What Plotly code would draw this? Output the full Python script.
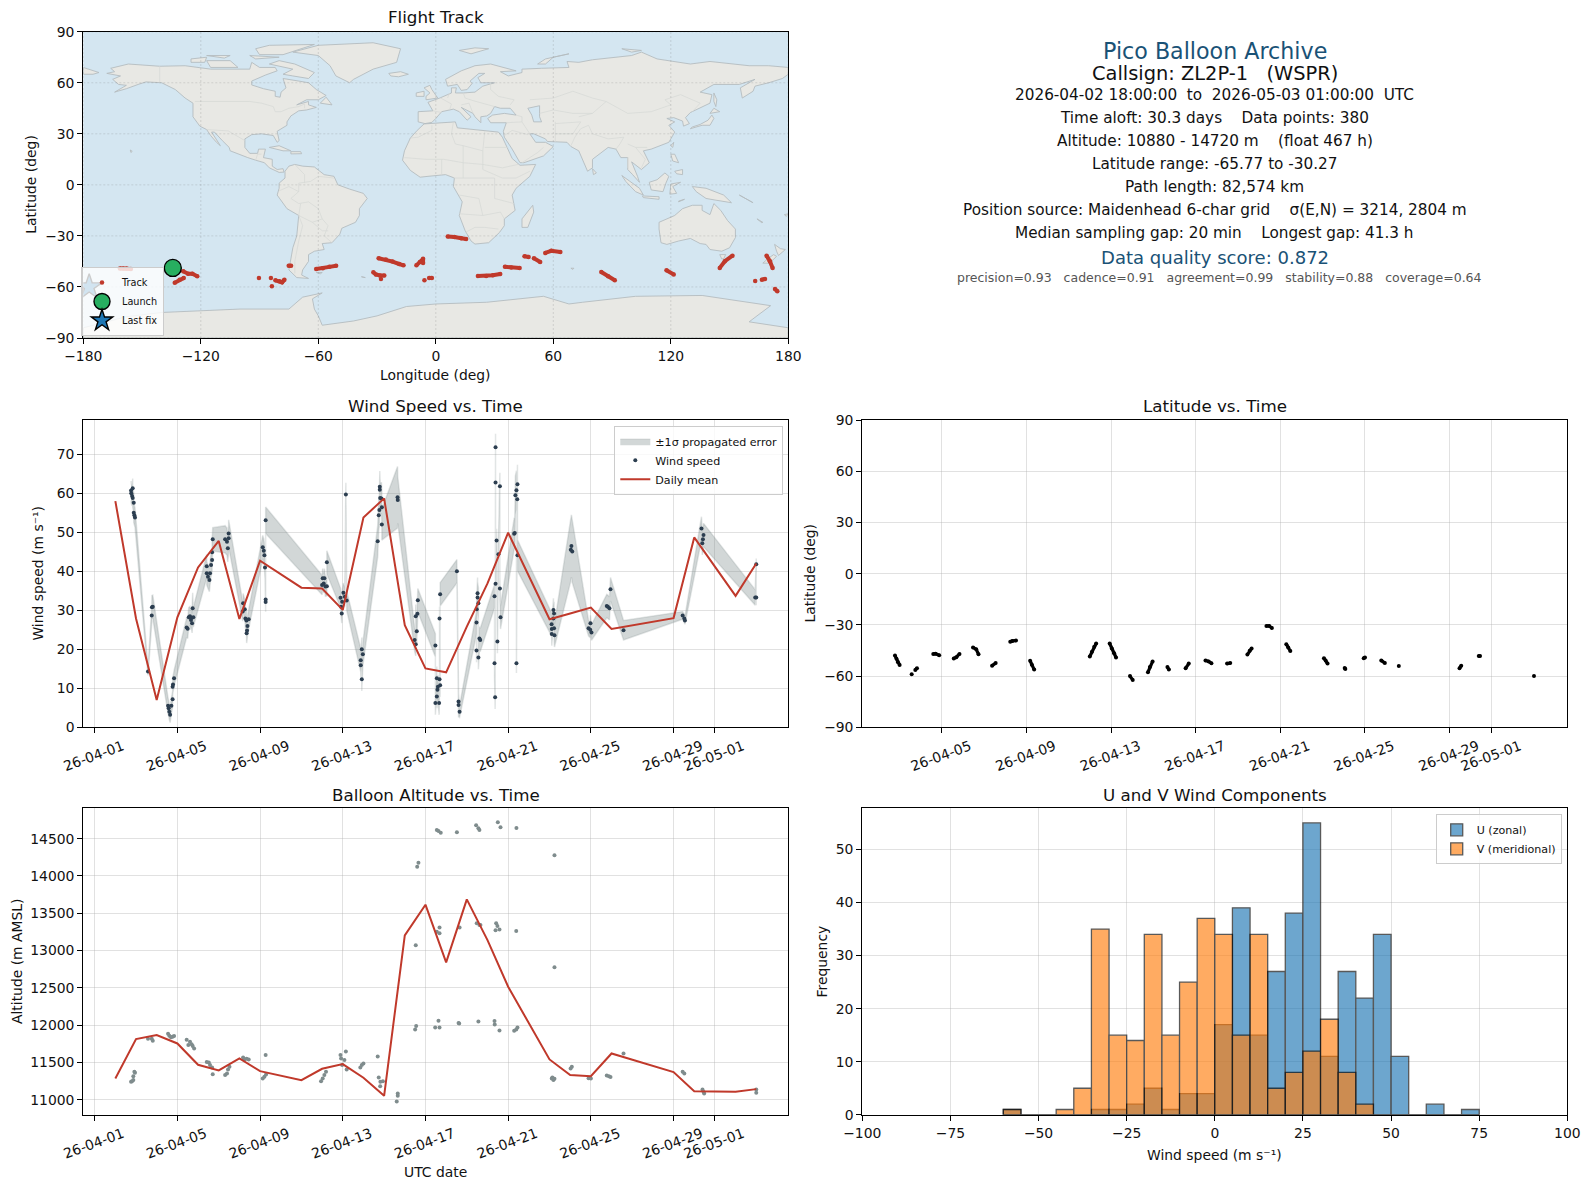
import pandas as pd
import plotly.graph_objects as go

W, H = 1590, 1189
BASE = pd.Timestamp("2026-04-01")

# ---------- time axis ----------
tick_dates = ["2026-04-01", "2026-04-05", "2026-04-09", "2026-04-13", "2026-04-17",
              "2026-04-21", "2026-04-25", "2026-04-29", "2026-05-01"]
tick_labels = ["26-04-01", "26-04-05", "26-04-09", "26-04-13", "26-04-17",
               "26-04-21", "26-04-25", "26-04-29", "26-05-01"]

# ---------- daily means (days after 04-01) ----------
mean_days = [1, 2, 3, 4, 5, 6, 7, 8, 10, 11, 12, 13, 14, 15, 16, 17, 18, 19, 20, 22, 23, 24, 25, 28, 29, 31, 32]
mean_wind = [58, 27.9, 7, 28.2, 41, 47.8, 27.8, 42.7, 35.8, 35.6, 30.1, 53.8, 58.7, 26.2, 15.1, 14.1, 25.8, 36.9,
             49.9, 27.7, 29.2, 30.7, 25.2, 28, 48.7, 33.7, 42]
mean_alt = [11286, 11813, 11867, 11755, 11469, 11393, 11554, 11384, 11264, 11416, 11478, 11295, 11054, 13204,
            13615, 12842, 13686, 13141, 12515, 11541, 11331, 11317, 11621, 11371, 11116, 11107, 11143]

# ---------- wind speed samples ----------
wind_days = [1.76, 1.77, 1.81, 1.84, 1.84, 1.89, 1.89, 1.92, 1.95,
             2.58, 2.76, 2.77, 2.81,
             3.55, 3.58, 3.61, 3.65, 3.71, 3.77, 3.77, 3.79, 3.84,
             4.45, 4.50, 4.55, 4.61, 4.66, 4.68, 4.71, 4.74, 4.77,
             5.42, 5.42, 5.48, 5.55, 5.58, 5.63, 5.68, 5.68, 5.71,
             6.31, 6.40, 6.44, 6.48, 6.48,
             7.16, 7.18, 7.26, 7.29, 7.34, 7.35, 7.37, 7.39, 7.45,
             8.13, 8.18, 8.21, 8.24, 8.27, 8.27, 8.27,
             11.00, 11.03, 11.08, 11.11, 11.16, 11.23, 11.23,
             11.89, 11.92, 11.95, 11.97, 12.03, 12.10, 12.15, 12.19,
             12.87, 12.87, 12.92, 12.92, 12.97,
             13.69, 13.74, 13.77, 13.79, 13.79, 13.81, 13.87, 13.89, 13.89,
             14.65, 14.66,
             15.48, 15.53, 15.53, 15.58, 15.61, 15.63,
             16.48, 16.48, 16.55, 16.55, 16.58, 16.60, 16.66, 16.68, 16.68, 16.71, 16.71,
             17.52, 17.60, 17.60, 17.65,
             18.47, 18.47, 18.48, 18.52, 18.52, 18.56, 18.56, 18.61, 18.65,
             19.34, 19.34, 19.37, 19.39, 19.39, 19.39, 19.44, 19.48, 19.53, 19.60, 19.60, 19.63,
             20.29, 20.32, 20.35, 20.40, 20.40, 20.44, 20.45, 20.45,
             22.10, 22.11, 22.11, 22.19, 22.19, 22.22, 22.22, 22.24,
             23.03, 23.06, 23.10,
             23.89, 23.97, 23.98, 24.03,
             24.77, 24.82, 24.90, 24.95,
             25.58,
             28.44, 28.52, 28.55,
             29.35, 29.39, 29.42, 29.45,
             31.95, 32.0, 32.0]
wind_speed = [60.7, 60, 59.3, 61.3, 58.8, 57.6, 55, 54.4, 53.8,
              14.3, 28.7, 30.8, 30.9,
              5.5, 4.9, 4, 3.2, 5.5, 7.2, 10.4, 11, 12.6,
              25.6, 25.3, 28.2, 28.5, 27.5, 28.1, 26.7, 30.5, 28.2,
              41.3, 39.5, 38.6, 37.8, 39.5, 41.6, 42.9, 44.9, 48.2,
              48.2, 47.6, 45.9, 48.5, 49.7,
              29.7, 31.8, 30.3, 27.9, 27.4, 24.1, 24.8, 26, 27.7,
              46.2, 45.3, 44.1, 41, 32.8, 32.1, 53.1,
              36.5, 38.2, 36.9, 38.2, 36.1, 36.2, 42.3,
              33.2, 30.9, 29.2, 32.2, 34.5, 33.5, 59.7, 32.5,
              17.2, 15.9, 20, 12.3, 18.7,
              47.7, 54.4, 55.7, 60.9, 61.7, 58.8, 58.7, 56.4, 52,
              59, 58.3,
              22.4, 21.3, 28.5, 24.6, 29.1, 32.6,
              21, 6.2, 12.6, 7.9, 9.6, 10.4, 6.2, 12.3, 27.9, 10.8, 34.1,
              40, 6.6, 5.7, 4,
              26.9, 19.7, 30.3, 34.4, 33.3, 31.8, 17.9, 22.8, 22.4,
              33.6, 16.4, 7.7, 71.8, 62.8, 36.8, 47.9, 22, 44.4, 61.8, 35.6, 28.2,
              49.6, 49.8, 59.5, 60.8, 16.4, 58.5, 62.3, 44.1,
              26.4, 25.2, 23.9, 30.1, 27.9, 29.2, 25.4, 23.6,
              45.5, 46.5, 45.1,
              25.4, 25, 26.7, 24.3,
              31.1, 30.9, 30.5, 35.4,
              24.9,
              28.7, 27.9, 27.4,
              51, 47.2, 48.2, 49.3,
              33.3, 41.8, 33.3]
wind_sigma = [2.5, 2.5, 2.5, 2.5, 2.5, 2.5, 2.5, 2.5, 2.5,
              1.0, 2.0, 3.0, 3.0,
              2, 2, 2, 2, 2, 2, 2, 2, 2,
              2.5, 2.5, 2.5, 2.5, 2.5, 2.5, 2.5, 4, 2.5,
              3, 3, 3, 3, 3, 3, 3, 3, 3,
              3.5, 3.5, 3.5, 3.5, 3.5,
              2.5, 2.5, 2.5, 2.5, 2.5, 2.5, 2.5, 2.5, 2.5,
              3, 3, 3, 3, 2.5, 2.5, 3.4,
              2.5, 2.5, 2.5, 2.5, 2.5, 2.5, 3,
              2.5, 2.5, 2.5, 2.5, 2.5, 2.5, 3, 2.5,
              3, 3, 3, 3, 3,
              4, 4, 4, 4, 4, 4, 4, 4, 4,
              7.9, 6,
              3, 3, 3, 3, 3, 3,
              3, 3, 3, 3, 3, 3, 3, 3, 3, 3, 3,
              3, 3, 3, 1.5,
              3, 3, 3, 4, 4, 4, 3, 3, 3,
              3, 3, 3, 3.5, 3.5, 3, 3, 3, 3, 3.5, 3, 3,
              4, 4, 5, 5, 2.5, 5, 5, 4,
              3, 3, 3, 3, 3, 3, 3, 3,
              8, 8, 8,
              2, 2, 2, 2,
              3, 3, 3, 3,
              2.5,
              1, 1, 1,
              3, 3, 3, 3,
              2, 1.5, 2]

# ---------- altitude samples ----------
alt_days = [1.76, 1.81, 1.87, 1.87, 1.92, 1.95, 2.58, 2.76, 2.81,
            3.55, 3.61, 3.69, 3.77, 3.84, 4.45, 4.53, 4.61, 4.69, 4.74, 4.81,
            5.42, 5.52, 5.58, 5.68, 5.71, 6.31, 6.40, 6.45, 6.52,
            7.18, 7.24, 7.35, 7.45, 8.13, 8.21, 8.29, 8.27,
            10.95, 11.03, 11.11, 11.19, 11.89, 11.92, 12.08, 11.97, 12.19, 12.15,
            12.85, 12.92, 13.00, 13.69, 13.74, 13.82, 13.81, 13.94,
            14.66, 14.66, 14.61, 15.53, 15.50, 15.55, 15.60, 15.66,
            16.47, 16.68, 16.63, 16.55, 16.68, 16.68, 16.55, 16.63, 16.74,
            17.60, 17.63, 17.65, 17.52,
            18.56, 18.48, 18.61, 18.66, 18.45, 18.56, 18.61,
            19.34, 19.35, 19.58, 19.39, 19.42, 19.48, 19.58, 19.50, 19.63,
            20.29, 20.39, 20.45, 20.39, 20.40,
            22.24, 22.24, 22.11, 22.19, 22.24, 22.14,
            23.08, 23.02, 23.89, 24.00, 24.77, 24.87, 24.95, 25.58,
            28.44, 28.52, 29.40, 29.45, 29.48, 32.0, 32.0]
alt_m = [11241, 11250, 11264, 11317, 11375, 11362, 11818, 11818, 11791,
         11885, 11858, 11840, 11845, 11854, 11805, 11733, 11778, 11746, 11720, 11688,
         11505, 11500, 11465, 11434, 11344, 11331, 11353, 11407, 11442,
         11568, 11541, 11550, 11541, 11286, 11308, 11340, 11599,
         11250, 11286, 11331, 11375, 11599, 11554, 11532, 11465, 11407, 11648,
         11434, 11465, 11487, 11581, 11300, 11241, 11183, 11250,
         11085, 11054, 10978, 13070, 11943, 11988, 14125, 14178,
         11970, 11970, 12059, 13253, 13231, 13311, 14616, 14603, 14580,
         12028, 12024, 13311, 14585,
         12050, 13365, 13342, 13342, 14679, 14639, 14616,
         12055, 12010, 11930, 13271, 13365, 13329, 13284, 14719, 14652,
         11925, 11943, 11970, 13262, 14643,
         14277, 12775, 11286, 11264, 11282, 11300,
         11443, 11420, 11290, 11286, 11326, 11317, 11304, 11621,
         11375, 11353, 11139, 11107, 11085, 11139, 11094]

# ---------- latitude samples (None separates daily runs) ----------
lat_days = [1.78, 1.85, 1.91, 2.0, None, 2.57, None, 2.74, 2.82, None, 3.59, 3.7, 3.87, None, 4.56, 4.68, 4.83, None,
            5.47, 5.62, 5.73, None, 6.37, 6.54, None, 7.23, 7.33, 7.5, None, 8.17, 8.25, 8.36, None,
            10.99, 11.09, 11.2, 11.29, None, 11.93, 12.03, 12.14, 12.23, None, 12.89, 13.02, None,
            13.74, 13.83, 13.96, None, 14.66, 14.73, None, 15.52, 15.67, None, 16.46, 16.61, 16.74, None,
            17.48, 17.63, None, 18.44, 18.55, 18.64, None, 19.34, 19.47, 19.6, None, 20.28, 20.37, 20.47, None,
            22.06, 22.14, 22.23, None, 23.04, 23.07, None, 23.94, 24.0, None, 24.77, 24.94, None, 25.6, None,
            28.47, 28.55, None, 29.38, 29.44, None, 31.99]
lat_deg = [-48, -49.9, -51.8, -53.5, None, -58.9, None, -56.4, -55.4, None, -47, -46.9, -47.8, None, -49.7, -48.9, -47, None,
           -43.2, -44.3, -47.2, None, -53.9, -52.4, None, -39.9, -39.4, -39.2, None, -51, -53.3, -56.2, None,
           -48.5, -45.7, -42.8, -40.9, None, -40.9, -43.8, -46.6, -49.1, None, -60, -62.3, None,
           -57.7, -54.7, -51.4, None, -54.7, -56.2, None, -55.4, -52.7, None, -50.8, -51.4, -52.5, None,
           -52.7, -52.4, None, -47.4, -45.1, -43.8, None, -30.6, -30.6, -31.9, None, -41.3, -43.2, -45.3, None,
           -49.5, -50.8, -52.7, None, -55.2, -55.8, None, -49.5, -49.1, None, -50.8, -52.4, None, -54.1, None,
           -55.4, -53.9, None, -48.3, -48.3, None, -60]

# ---------- map track ----------
track_lon = [-180, None, -161.3, -159.6, -157.9, -155.7, None, -133.3, -130.8, -128.7, None, -129, -126.5, -124.3, -121.8, None,
             -90.3, None, -84.2, None, -83.7, None, -81.9, -79.8, -78.5, -77.3, None, -75.1, -73.9, None,
             -61.1, -57.7, -54.3, -50.9, None, -29.2, -25.5, -22.1, -18.7, -16.5, None, -31.9, -30.6, -28.5, -26.3, None, -28, None,
             -9.9, -8.1, -6.5, -6.5, None, -5.8, None, -3.4, -2, None,
             6.1, 9.5, 13, 15.5, None, 21.5, 25.7, 29.1, 32.9, None, 35.3, 38.5, 42.8, None, 45.3, 47.4, None,
             50.1, 53.3, None, 55.9, 59, 63.6, None, 84.5, 88, 91.4, None, 117.8, 121.5, None, 145, 147.6, 151.5, None,
             168.9, 170.6, 172, None, 163.1, None, 166.5, 168.1, None, 173.2, 174.4]
track_lat = [-60.6, None, -49.2, -49.2, -49.2, -49.4, None, -57.6, -55.7, -54.7, None, -50.8, -52.2, -52.2, -53.7, None,
             -54.7, None, -54.7, None, -59.6, None, -56.1, -56.7, -57.3, -55.7, None, -47.5, -47.5, None,
             -49.4, -49, -48.2, -47.6, None, -43.1, -43.9, -45.1, -46.5, -47.3, None, -51.4, -52.7, -53.3, -53.3, None, -55.3, None,
             -47.3, -45.3, -43.5, -45.9, None, -56.1, None, -54.7, -54.7, None,
             -30.4, -30.6, -31.4, -31.8, None, -53.5, -53.5, -53.1, -52.4, None, -48.2, -48.6, -48.8, None, -42, -42.4, None,
             -43.1, -45.3, None, -40, -38.8, -39.4, None, -51.2, -53.7, -56.1, None, -50.2, -52.7, None, -48.8, -44.9, -41.6, None,
             -41.6, -44.9, -48.8, None, -56.5, None, -55.7, -55.3, None, -61.2, -62.5]
launch_lon, launch_lat = [-134.3], [-48.8]
last_lon, last_lat = [-177], [-60]

# ---------- wind components histogram ----------
bin_start = [-60, -55, -50, -45, -40, -35, -30, -25, -20, -15, -10, -5, 0, 5, 10, 15, 20, 25, 30, 35, 40, 45, 50, 55, 60, 65, 70]
u_counts = [1, 0, 0, 0, 0, 1, 1, 2, 5, 1, 4, 4, 17, 39, 15, 27, 38, 55, 11, 27, 22, 34, 11, 0, 2, 0, 1]
v_counts = [1, 0, 0, 1, 5, 35, 15, 14, 34, 15, 25, 37, 34, 15, 34, 5, 8, 12, 18, 8, 2, 0, 0, 0, 0, 0, 0]

# ---------- base map outlines (lon, lat) ----------
north_america = [(-168,65.5),(-164,66.5),(-166,68.5),(-157,71),(-141,69.7),(-128,70),(-115,68),(-108,68),(-95,68),(-94,72),(-90,69),(-82,69),(-81,67),(-87,64.5),(-94,61),(-94,58.7),(-88,56.5),(-82,55),(-82,52),(-79.5,51.5),(-79,54.5),(-76.5,57),(-78,62.5),(-70,61),(-65,60),(-61,56),(-56,52.5),(-60,50),(-66,50),(-71,47),(-65,49),(-65,47),(-61,45.5),(-66,44),(-70,43.5),(-74,40.5),(-76,37),(-76,35),(-81,31.5),(-80,26),(-81,25),(-83,29),(-89,30),(-94,29.5),(-97.5,27),(-97.5,22),(-95,18.5),(-91,18.5),(-90.5,21),(-87,21),(-88,16),(-83.5,15),(-83.5,11),(-81,9),(-78,9.5),(-77.5,7.5),(-80,7.3),(-85,10),(-87.5,13),(-92,14.5),(-96,16),(-105,20),(-105.5,22),(-109,26),(-113,31),(-114.5,31),(-110,23),(-112,25),(-115,29),(-117,32.5),(-120.5,34.5),(-124,40),(-124,48),(-128,51),(-133,56),(-140,60),(-148,60.5),(-152,59),(-158,56.5),(-164,54.5),(-158,58.5),(-162,59),(-165,62),(-161,64),(-168,65.5)]
greenland = [(-73,78),(-60,82),(-32,83.5),(-18,80),(-20,72),(-32,68),(-42,62),(-44,60),(-51,64),(-54,70),(-60,76),(-73,78)]
baffin = [(-80,73),(-72,71),(-62,66),(-65,62.5),(-73,64),(-78,65),(-73,68),(-85,71),(-80,73)]
victoria = [(-117,73),(-105,73),(-101,69),(-115,69),(-117,73)]
ellesmere = [(-90,76.5),(-78,76.5),(-62,82.5),(-85,82),(-92,80),(-90,76.5)]
banks = [(-125,74),(-117,75),(-118,72),(-125,72),(-125,74)]
devon = [(-95,76),(-80,75),(-92,74),(-95,76)]
melville = [(-117,76),(-105,76),(-108,74.5),(-117,76)]
newfoundland = [(-59,48),(-56,51.5),(-53,47),(-59,48)]
cuba = [(-85,22),(-80,23),(-74,20),(-78,20),(-85,22)]
hispaniola = [(-74,19.5),(-69,19.5),(-68.5,18.3),(-74,18.2),(-74,19.5)]
hawaii = [(-156,20.5),(-155,19.7),(-155.7,19),(-156,20.5)]
south_america = [(-77,8),(-75,11),(-72,12),(-68,11),(-62,10.5),(-57,6),(-52,5),(-50,0),(-44,-2.5),(-37,-5),(-35,-8),(-39,-14),(-39,-18),(-41,-22),(-48,-25.5),(-49,-29),(-53,-34),(-58,-34.5),(-57,-38),(-62,-39),(-65,-41),(-65,-45),(-68,-50),(-68.5,-53),(-65,-55),(-71,-54.5),(-75,-50),(-74,-42),(-73,-37),(-71,-30),(-70,-18),(-76,-14),(-81,-6),(-80,-2),(-80,1),(-77,4),(-77,8)]
africa = [(-6,35.8),(10,37),(11,33.5),(20,32.5),(25,31.5),(32,31),(34,28),(37,21),(39,15.5),(43,11.5),(51,12),(48,5),(41,-2),(39,-6),(40.5,-15),(35,-20),(35,-24),(32.5,-28),(27,-34),(20,-34.8),(18,-33),(15,-27),(12,-18),(13.5,-10),(9,-1),(9.5,4),(5,6),(-4,5),(-8,4.5),(-13,8.5),(-17,14.5),(-16,20),(-13,27.5),(-9.5,32),(-6,35.8)]
eurasia = [(-9,37),(-9,43),(-1.5,43.5),(-4,48.5),(2,51),(8,54),(8,57),(10.5,57),(10,54),(14,54),(20,54.5),(24,58),(30,60),(23,60),(21.5,63),(25,65.5),(22,65.5),(17.5,61),(18.5,59.5),(16,56),(13,55.5),(11,59),(6,58),(5,62),(13,67),(20,70),(28,71),(41,67),(33,66.5),(37,64),(44,66),(44,68),(54,68.5),(68,69),(67,72.5),(73,72),(80,73.5),(100,76),(105,78),(113,74),(130,71),(140,72.5),(160,70),(170,70),(180,69),(180,65),(177,62.5),(170,60),(163,58),(162,55),(156.5,51),(155.5,57),(163,62),(155,59),(142,59),(135,54.5),(141,53),(140,48),(130,42.5),(127.5,39.5),(129.5,36),(126.5,34.5),(126,37.5),(121.5,39.5),(118,39),(122,37),(119,35),(122,31),(119,25),(110,21),(106,20),(109,13),(105,9),(100,13.5),(103,5),(104,1.5),(100.5,6),(98,9),(98,16),(94.5,16),(92,21),(88,22),(80,15),(80,10),(77.5,8),(73,20),(69,22.5),(67,25),(57,25.5),(56,27),(50,30),(48,30),(51,25),(56,25),(60,22.5),(55,17),(45,13),(43,13),(39,21),(35,28),(34.5,31.5),(36,36.5),(28,36.5),(26.5,39),(29,41),(35,42),(41,41),(38,45),(33,45),(30,46),(28,42),(26,40.5),(23,40),(23,36.5),(20,40),(19,42),(13,45.5),(18,40),(16,38),(12,43),(9,44.5),(3,43),(0,39),(-2,36.7),(-5.5,36),(-9,37)]
chukotka = [(-180,69),(-172,66),(-175,65),(-180,65),(-180,69)]
britain = [(-5,50),(1,51),(-2,56),(-3,58.5),(-6,57),(-3,54),(-5,52),(-5,50)]
ireland = [(-10,52),(-6,52),(-6,55),(-10,54),(-10,52)]
iceland = [(-24,65.5),(-18,66.5),(-14,65),(-19,63.5),(-23,64),(-24,65.5)]
svalbard = [(12,79),(20,80.5),(27,80),(18,77),(12,79)]
novaya = [(52,71),(56,74),(68,77),(60,75),(56,71),(52,71)]
severnaya = [(95,80),(105,79),(100,78),(95,80)]
sakhalin = [(142,54),(143.5,50),(143,46),(142,49),(142,54)]
honshu = [(130,33),(136,35),(140,35),(142,39),(141,41),(139,38),(135,35.5),(131,34),(130,33)]
hokkaido = [(140,42),(142,45),(145,43),(141,42),(140,42)]
sri_lanka = [(80,9.5),(82,7),(80.5,6),(80,9.5)]
taiwan = [(120,23),(121.5,25),(121,22),(120,23)]
luzon = [(120,18),(122,18),(124,13),(121,14),(120,18)]
mindanao = [(122,8),(126,9),(126,6),(123,6.5),(122,8)]
borneo = [(109,1.5),(113,3),(117,7),(119,5),(117.5,1),(116,-4),(110,-3),(109,1.5)]
sumatra = [(95,5.5),(104,-2),(106,-6),(102,-4),(97,2),(95,5.5)]
java = [(105.5,-6.5),(114,-7),(114,-8.5),(106,-7.5),(105.5,-6.5)]
sulawesi = [(119.5,-5.5),(120,0.5),(125,1.5),(121,-1),(123,-5),(119.5,-5.5)]
new_guinea = [(131,-1),(138,-2),(147,-6),(151,-10.5),(143,-9),(138,-8),(133,-4),(131,-1)]
timor = [(124,-9.5),(127,-8.5),(124,-10),(124,-9.5)]
solomon = [(155,-6),(160,-9),(162,-10.5),(155,-6)]
caledonia = [(164,-20),(167,-22),(166.5,-22.3),(164,-20)]
fiji = [(178,-17.5),(180,-17),(179,-18.5),(178,-17.5)]
australia = [(114,-22),(122,-18),(126,-14),(131,-12),(136,-12),(136,-15),(140,-17.5),(142,-11),(145.5,-15),(149,-21),(153,-26),(153,-31),(150,-37),(146,-39),(140,-38),(138,-35),(135,-34.5),(130,-31.5),(124,-33),(118,-35),(115,-34),(114,-26),(114,-22)]
tasmania = [(145,-41),(148,-41),(147,-43.5),(146,-43.5),(145,-41)]
nz_north = [(173,-35),(176,-37.5),(178.5,-38),(175,-41.5),(174,-39),(173,-35)]
nz_south = [(172.5,-41),(174,-42),(170.5,-46),(167,-46),(170,-43),(172.5,-41)]
madagascar = [(49.5,-12),(50,-16),(47,-25),(44,-25),(44,-20),(47,-15.5),(49.5,-12)]
kerguelen = [(69,-49),(70.5,-49),(70,-49.7),(69,-49)]
falkland = [(-61,-51.5),(-58,-51.5),(-59,-52.3),(-61,-51.5)]
south_georgia = [(-38,-54),(-36,-54.5),(-37,-54.6),(-38,-54)]
antarctica = [(-180,-84),(-158,-77.5),(-140,-75),(-119,-74),(-100,-73),(-75,-73),(-68,-66),(-58,-63.5),(-63,-67),(-62,-73),(-60,-77),(-58,-82.5),(-42,-80),(-30,-77),(-15,-71.5),(0,-70),(26,-69),(55,-65.5),(68,-70),(75,-69),(102,-65.5),(136,-65),(171,-71),(164,-77),(160,-80.5),(180,-84),(180,-90),(-180,-90),(-180,-84)]
land_polys = [north_america, greenland, baffin, victoria, ellesmere, banks, devon, melville, newfoundland, cuba,
              hispaniola, hawaii, south_america, africa, eurasia, chukotka, britain, ireland, iceland, svalbard, novaya,
              severnaya, sakhalin, honshu, hokkaido, sri_lanka, taiwan, luzon, mindanao, borneo, sumatra, java, sulawesi,
              new_guinea, timor, solomon, caledonia, fiji, australia, tasmania, nz_north, nz_south, madagascar, kerguelen,
              falkland, south_georgia, antarctica]
caspian = [(47,45),(53,46.5),(53,40),(54,37),(50,37),(49,41),(47,45)]
border_lines = [
    [(-123,49),(-95,49),(-89,48),(-83,46),(-82,43),(-79,43),(-75,45),(-70,46),(-67,47.5),(-67,45)],
    [(-141,69.7),(-141,60)], [(-117,32.5),(-106,31.7),(-97.5,26)], [(-92,14.5),(-91,18),(-89,18)],
    [(-72,12),(-67,6),(-67,1)],
    [(-52,4),(-60,5),(-64,2),(-70,1),(-70,-4),(-74,-8),(-70,-11),(-65,-10),(-60,-14),(-58,-20),(-55,-24),(-57,-30),(-53,-34)],
    [(-70,-18),(-68,-24),(-70,-33),(-72,-45),(-72,-52)], [(-80,-3.5),(-75,-1),(-70,-4)],
    [(-69,-11),(-70,-18),(-63,-22),(-58,-20)], [(-63,-22),(-58,-27),(-55,-27)],
    [(-13,27.5),(-9,28),(-2,32),(-2,35)], [(9,37),(8,30),(10,24),(14,23),(24,20),(25,31.5)], [(25,22),(37,22)],
    [(-16,16),(-5,15),(4,15),(14,13),(24,12),(34,10),(42,12)], [(24,20),(24,9),(34,4),(41,4),(48,8)], [(3,6),(3,15)],
    [(14,23),(14,4)], [(9,4),(14,4),(30,4),(30,-8),(40,-11)], [(12,-6),(22,-8),(24,-18),(12,-17)],
    [(15,-28),(20,-25),(25,-25),(32,-26)], [(24,-18),(33,-16),(35,-20)],
    [(-1.5,43.5),(3,42.5)], [(2.5,51),(6,49),(8,47.5),(7,44)], [(6,51),(7,54)], [(14,54),(15,51),(19,49.5),(24,48),(30,46)],
    [(13,47),(17,48),(19,42)], [(28,60),(28,56),(32,52),(40,50),(38,47)], [(36,36.5),(44,37),(44,40),(41,41)],
    [(44,37),(48,30)], [(35,29),(39,32),(47,29.5)], [(44,13),(52,19),(55,22)], [(61,37),(61,25)],
    [(61,36),(71,37),(74,37),(70,30),(61,30)], [(69,23),(71,28),(74,33),(78,35),(80,30),(88,27),(96,28),(94,24),(92,21)],
    [(73,40),(80,42),(87,49),(98,42),(110,43),(120,47),(117,50),(125,53),(135,48),(131,43)],
    [(48,50),(60,51),(70,55),(80,51),(87,49)], [(53,42),(60,44),(70,42),(80,42)], [(98,24),(102,22),(108,22)],
    [(98,16),(98,10)], [(102,22),(107,15),(105,10)]]

lon_ticks = [-180, -120, -60, 0, 60, 120, 180]
lat_ticks = [-90, -60, -30, 0, 30, 60, 90]

# ---------- text block ----------
title_lines = [("Pico Balloon Archive", 50.5, 22.2, "#1a5276", 1214.8),
               ("Callsign: ZL2P-1\u00a0\u00a0\u00a0(WSPR)", 73.3, 19.4, "#111111", 1214.8),
               ("2026-04-02 18:00:00\u00a0\u00a0to\u00a0\u00a02026-05-03 01:00:00\u00a0\u00a0UTC", 95, 15.28, "#111111", 1214.8),
               ("Time aloft: 30.3 days\u00a0\u00a0\u00a0\u00a0Data points: 380", 118, 15.28, "#111111", 1214.8),
               ("Altitude: 10880 - 14720 m\u00a0\u00a0\u00a0\u00a0(float 467 h)", 141, 15.28, "#111111", 1214.8),
               ("Latitude range: -65.77 to -30.27", 164, 15.28, "#111111", 1214.8),
               ("Path length: 82,574 km", 187, 15.28, "#111111", 1214.8),
               ("Position source: Maidenhead 6-char grid\u00a0\u00a0\u00a0\u00a0\u03c3(E,N) = 3214, 2804 m", 209.6, 15.28, "#111111", 1214.8),
               ("Median sampling gap: 20 min\u00a0\u00a0\u00a0\u00a0Longest gap: 41.3 h", 232.6, 15.28, "#111111", 1214.8),
               ("Data quality score: 0.872", 257, 18.05, "#1a5276", 1214.8),
               ("precision=0.93\u00a0\u00a0\u00a0cadence=0.91\u00a0\u00a0\u00a0agreement=0.99\u00a0\u00a0\u00a0stability=0.88\u00a0\u00a0\u00a0coverage=0.64", 278, 12.5, "#555555", 1219)]

RED, NAVY, GREY = "#c0392b", "#2c3e50", "#7f8c8d"
L0, L1, R0, R1 = 83.3, 788.3, 862.3, 1567.3
ROWS = [(31.7, 338.0), (420.0, 727.3), (808.3, 1114.8)]
FONT = "DejaVu Sans"
GRID = "rgba(176,176,176,0.38)"


def dates(days):
    return [None if d is None else (BASE + pd.Timedelta(days=d)).isoformat() for d in days]


def flatten(polys):
    xs, ys = [], []
    for p in polys:
        xs += [q[0] for q in p] + [None]
        ys += [q[1] for q in p] + [None]
    return xs, ys


def axis(px0, px1, horizontal, anchor, **kw):
    dom = [px0 / W, px1 / W] if horizontal else [1 - px1 / H, 1 - px0 / H]
    base = dict(domain=dom, anchor=anchor, showline=True, mirror=True, linecolor="black", linewidth=1.1,
                ticks="outside", ticklen=5, tickwidth=1.1, tickcolor="black", showgrid=True, gridcolor=GRID,
                gridwidth=1, zeroline=False, tickfont=dict(size=13.9, color="#111111", family=FONT))
    base.update(kw)
    return base


fig = go.Figure()

# map panel
land_x, land_y = flatten(land_polys)
fig.add_trace(go.Scatter(x=land_x, y=land_y, xaxis="x", yaxis="y", mode="lines", fill="toself", fillcolor="#e8e8e4",
                         line=dict(color="#b4bcc0", width=0.9), showlegend=False, hoverinfo="skip"))
fig.add_trace(go.Scatter(x=[q[0] for q in caspian], y=[q[1] for q in caspian], xaxis="x", yaxis="y", mode="lines",
                         fill="toself", fillcolor="#d4e6f1", line=dict(color="#b4bcc0", width=0.9), showlegend=False,
                         hoverinfo="skip"))
bx, by = flatten(border_lines)
fig.add_trace(go.Scatter(x=bx, y=by, xaxis="x", yaxis="y", mode="lines", line=dict(color="#d6d8d6", width=0.7),
                         showlegend=False, hoverinfo="skip"))
gx, gy = [], []
for v in lon_ticks:
    gx += [v, v, None]
    gy += [-90, 90, None]
for v in lat_ticks:
    gx += [-180, 180, None]
    gy += [v, v, None]
fig.add_trace(go.Scatter(x=gx, y=gy, xaxis="x", yaxis="y", mode="lines",
                         line=dict(color="rgba(110,110,110,0.3)", width=0.7, dash="2px,2px"),
                         showlegend=False, hoverinfo="skip"))
fig.add_trace(go.Scatter(x=track_lon, y=track_lat, xaxis="x", yaxis="y", mode="lines",
                         line=dict(color=RED, width=4), showlegend=False, hoverinfo="skip"))
fig.add_trace(go.Scatter(x=track_lon, y=track_lat, xaxis="x", yaxis="y", mode="markers", name="Track",
                         marker=dict(color=RED, size=4.5), legend="legend"))
fig.add_trace(go.Scatter(x=launch_lon, y=launch_lat, xaxis="x", yaxis="y", mode="markers", name="Launch",
                         marker=dict(color="#27ae60", size=17, line=dict(color="black", width=1.4)),
                         legend="legend"))
fig.add_trace(go.Scatter(x=last_lon, y=last_lat, xaxis="x", yaxis="y", mode="markers", name="Last fix",
                         marker=dict(color="#1f77b4", size=19, symbol="star", line=dict(color="black", width=1.4)),
                         legend="legend"))

# wind panel
upper = [v + s for v, s in zip(wind_speed, wind_sigma)]
lower = [max(v - s, 0) for v, s in zip(wind_speed, wind_sigma)]
wd = dates(wind_days)
fig.add_trace(go.Scatter(x=wd + wd[::-1], y=upper + lower[::-1], xaxis="x2", yaxis="y2", mode="lines", fill="toself",
                         fillcolor="rgba(127,140,141,0.35)",
                         line=dict(width=1.5, color="rgba(127,140,141,0.22)", simplify=False),
                         name="\u00b11\u03c3 propagated error", legend="legend2", hoverinfo="skip"))
fig.add_trace(go.Scatter(x=wd, y=wind_speed, xaxis="x2", yaxis="y2", mode="markers", name="Wind speed",
                         marker=dict(color=NAVY, size=4), legend="legend2"))
fig.add_trace(go.Scatter(x=dates(mean_days), y=mean_wind, xaxis="x2", yaxis="y2", mode="lines", name="Daily mean",
                         line=dict(color=RED, width=2), legend="legend2"))

# latitude panel
fig.add_trace(go.Scatter(x=dates(lat_days), y=lat_deg, xaxis="x3", yaxis="y3", mode="lines+markers",
                         line=dict(color="black", width=3.2), marker=dict(color="black", size=4), showlegend=False,
                         connectgaps=False))

# altitude panel
fig.add_trace(go.Scatter(x=dates(alt_days), y=alt_m, xaxis="x4", yaxis="y4", mode="markers",
                         marker=dict(color=GREY, size=4), showlegend=False))
fig.add_trace(go.Scatter(x=dates(mean_days), y=mean_alt, xaxis="x4", yaxis="y4", mode="lines",
                         line=dict(color=RED, width=2), showlegend=False))

# histogram panel
centers = [b + 2.5 for b in bin_start]
for counts, color, name in [(u_counts, "#1f77b4", "U (zonal)"), (v_counts, "#ff7f0e", "V (meridional)")]:
    fig.add_trace(go.Bar(x=centers, y=counts, width=5, xaxis="x5", yaxis="y5", name=name, opacity=0.65,
                         marker=dict(color=color, line=dict(color="black", width=1.3)), legend="legend3"))

notes = []


def note(text, x, y, size, color="#111111", angle=0):
    notes.append(dict(text=text, x=x / W, y=1 - y / H, xref="paper", yref="paper", xanchor="center", yanchor="middle",
                      showarrow=False, textangle=angle, font=dict(size=size, color=color, family=FONT)))


note("Flight Track", 435.8, 17.5, 16.7)
note("Wind Speed vs. Time", 435.8, 405.5, 16.7)
note("Latitude vs. Time", 1214.8, 405.5, 16.7)
note("Balloon Altitude vs. Time", 435.8, 794.5, 16.7)
note("U and V Wind Components", 1214.8, 794.5, 16.7)
note("Longitude (deg)", 435.8, 374.5, 13.9)
note("UTC date", 435.8, 1171.5, 13.9)
note("Wind speed (m s\u207b\u00b9)", 1214.8, 1154.5, 13.9)
note("Latitude (deg)", 31, 184.8, 13.9, angle=-90)
note("Wind speed (m s\u207b\u00b9)", 38, 573.6, 13.9, angle=-90)
note("Latitude (deg)", 810, 573.6, 13.9, angle=-90)
note("Altitude (m AMSL)", 16.5, 961.5, 13.9, angle=-90)
note("Frequency", 821, 961.5, 13.9, angle=-90)
for text, y, size, color, x in title_lines:
    note(text, x, y, size, color)

legend_common = dict(bgcolor="rgba(255,255,255,0.8)", bordercolor="#cccccc", borderwidth=1, xanchor="right",
                     tracegroupgap=0, itemsizing="trace", traceorder="normal")

date_kw = dict(type="date", tickmode="array", tickvals=tick_dates, ticktext=tick_labels, tickangle=-20,
               ticklabelshift=28, ticklabelstandoff=0)
left_range = [(BASE + pd.Timedelta(days=-0.55)).isoformat(), (BASE + pd.Timedelta(days=33.55)).isoformat()]
right_range = [(BASE + pd.Timedelta(days=0.235)).isoformat(), (BASE + pd.Timedelta(days=33.565)).isoformat()]

fig.update_layout(
    width=W, height=H, autosize=False, margin=dict(l=0, r=0, t=0, b=0, autoexpand=False), paper_bgcolor="white",
    plot_bgcolor="white",
    font=dict(family=FONT, color="#111111"), barmode="overlay", annotations=notes, hovermode=False,
    shapes=[dict(type="rect", xref="x domain", yref="y domain", x0=0, x1=1, y0=0, y1=1, fillcolor="#d4e6f1",
                 line=dict(width=0), layer="below")],
    xaxis=axis(L0, L1, True, "y", range=[-180, 180], tickmode="array", tickvals=lon_ticks, showgrid=False),
    yaxis=axis(*ROWS[0], False, "x", range=[-90, 90], tickmode="array", tickvals=lat_ticks, showgrid=False),
    xaxis2=axis(L0, L1, True, "y2", range=left_range, **date_kw),
    yaxis2=axis(*ROWS[1], False, "x2", range=[0, 78.8], tickmode="array", tickvals=[0, 10, 20, 30, 40, 50, 60, 70]),
    xaxis3=axis(R0, R1, True, "y3", range=right_range, **date_kw),
    yaxis3=axis(*ROWS[1], False, "x3", range=[-90, 90], tickmode="array", tickvals=lat_ticks),
    xaxis4=axis(L0, L1, True, "y4", range=left_range, **date_kw),
    yaxis4=axis(*ROWS[2], False, "x4", range=[10799, 14907], tickmode="array", tickformat="d",
                tickvals=[11000, 11500, 12000, 12500, 13000, 13500, 14000, 14500]),
    xaxis5=axis(R0, R1, True, "y5", range=[-100, 100], tickmode="array",
                tickvals=[-100, -75, -50, -25, 0, 25, 50, 75, 100]),
    yaxis5=axis(*ROWS[2], False, "x5", range=[0, 57.75], tickmode="array", tickvals=[0, 10, 20, 30, 40, 50]),
    legend=dict(x=164 / W, y=1 - 336 / H, yanchor="bottom", font=dict(size=9.7, family=FONT), **legend_common),
    legend2=dict(x=783.3 / W, y=1 - 425.7 / H, yanchor="top", font=dict(size=11.1, family=FONT), **legend_common),
    legend3=dict(x=1561.7 / W, y=1 - 814.3 / H, yanchor="top", font=dict(size=11.1, family=FONT), **legend_common),
)

fig.write_html("out.html", config={"displayModeBar": False}, post_script="document.body.style.margin='0';")
